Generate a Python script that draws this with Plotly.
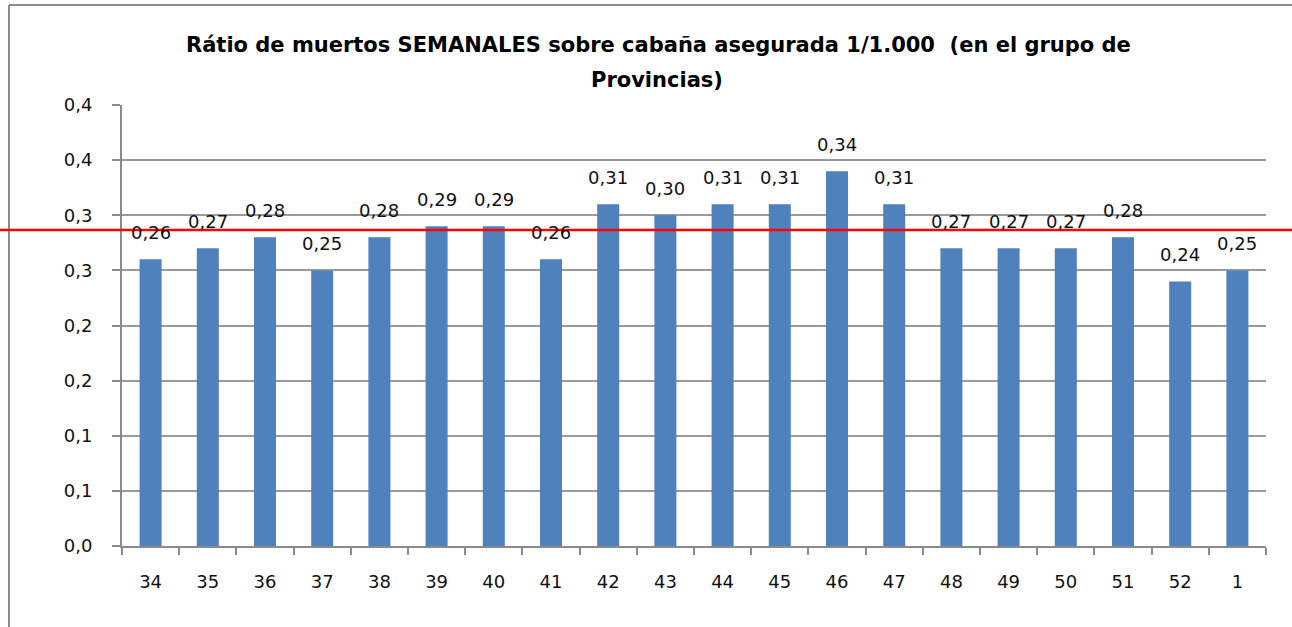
import plotly.graph_objects as go

# Weekly data
weeks = ["34", "35", "36", "37", "38", "39", "40", "41", "42", "43",
         "44", "45", "46", "47", "48", "49", "50", "51", "52", "1"]
ratios = [0.26, 0.27, 0.28, 0.25, 0.28, 0.29, 0.29, 0.26, 0.31, 0.30,
          0.31, 0.31, 0.34, 0.31, 0.27, 0.27, 0.27, 0.28, 0.24, 0.25]
reference_level = 0.2866

y_tickvals = [0.0, 0.05, 0.10, 0.15, 0.20, 0.25, 0.30, 0.35, 0.40]
y_ticktext = ["0,0", "0,1", "0,1", "0,2", "0,2", "0,3", "0,3", "0,4", "0,4"]

title_line1 = "Rátio de muertos SEMANALES sobre cabaña asegurada 1/1.000 \u00a0(en el grupo de"
title_line2 = "Provincias)"

W, H = 1292, 627
L, R, T, B = 122, 1266, 105, 546


def xp(px):
    return (px - L) / (R - L)


def yp(py):
    return (B - py) / (B - T)


BAR_COLOR = "#4F81BD"
GRID = "#9a9a9a"
FONT = "DejaVu Sans"
TEXT = "#111111"

fig = go.Figure()
fig.add_trace(go.Bar(
    x=weeks, y=ratios,
    marker=dict(color=BAR_COLOR, line=dict(width=0)),
    hoverinfo="skip",
))

annotations = []
# value labels above each bar (category axis positions are serial indices)
for i, v in enumerate(ratios):
    annotations.append(dict(
        x=i, y=v, xref="x", yref="y",
        text=f"{v:.2f}".replace(".", ","),
        showarrow=False, yanchor="bottom", yshift=14,
        font=dict(family=FONT, size=18, color=TEXT),
    ))

annotations.append(dict(
    x=xp(658), y=yp(45), xref="paper", yref="paper",
    text=f"<b>{title_line1}</b>", showarrow=False,
    xanchor="center", yanchor="middle",
    font=dict(family=FONT, size=21, color="#000000"),
))
annotations.append(dict(
    x=xp(657), y=yp(80), xref="paper", yref="paper",
    text=f"<b>{title_line2}</b>", showarrow=False,
    xanchor="center", yanchor="middle",
    font=dict(family=FONT, size=21, color="#000000"),
))

FRAME = dict(color="#8c8c8c", width=2)
shapes = [
    # outer chart frame: top and left edges
    dict(type="line", xref="paper", yref="paper",
         x0=xp(9), x1=xp(W + 10), y0=yp(5), y1=yp(5), line=FRAME, layer="below"),
    dict(type="line", xref="paper", yref="paper",
         x0=xp(9), x1=xp(9), y0=yp(5), y1=yp(H + 10), line=FRAME, layer="below"),
    # reference level line
    dict(type="line", xref="paper", yref="y",
         x0=xp(-5), x1=xp(W + 5), y0=reference_level, y1=reference_level,
         line=dict(color="#ff0000", width=2.5), layer="above"),
]

fig.update_layout(
    width=W, height=H,
    margin=dict(l=L, r=W - R, t=T, b=H - B),
    paper_bgcolor="white", plot_bgcolor="white",
    showlegend=False,
    bargap=0.615,
    annotations=annotations,
    shapes=shapes,
    font=dict(family=FONT, size=18, color=TEXT),
)

fig.update_xaxes(
    type="category",
    range=[-0.5, len(weeks) - 0.5],
    showgrid=False,
    showline=True, linecolor="#8a8a8a", linewidth=2,
    ticks="outside", tickson="boundaries", ticklen=7, tickwidth=2, tickcolor="#8a8a8a",
    ticklabelstandoff=18, tickangle=0,
    tickfont=dict(family=FONT, size=18, color=TEXT),
)
fig.update_yaxes(
    range=[0, 0.4],
    tickvals=y_tickvals, ticktext=y_ticktext,
    showgrid=True, gridcolor=GRID, gridwidth=2,
    showline=True, linecolor="#8a8a8a", linewidth=2,
    ticks="outside", ticklen=8, tickwidth=2, tickcolor="#8a8a8a",
    ticklabelstandoff=16,
    zeroline=False,
    tickfont=dict(family=FONT, size=18, color=TEXT),
)

fig.write_html("out.html")
